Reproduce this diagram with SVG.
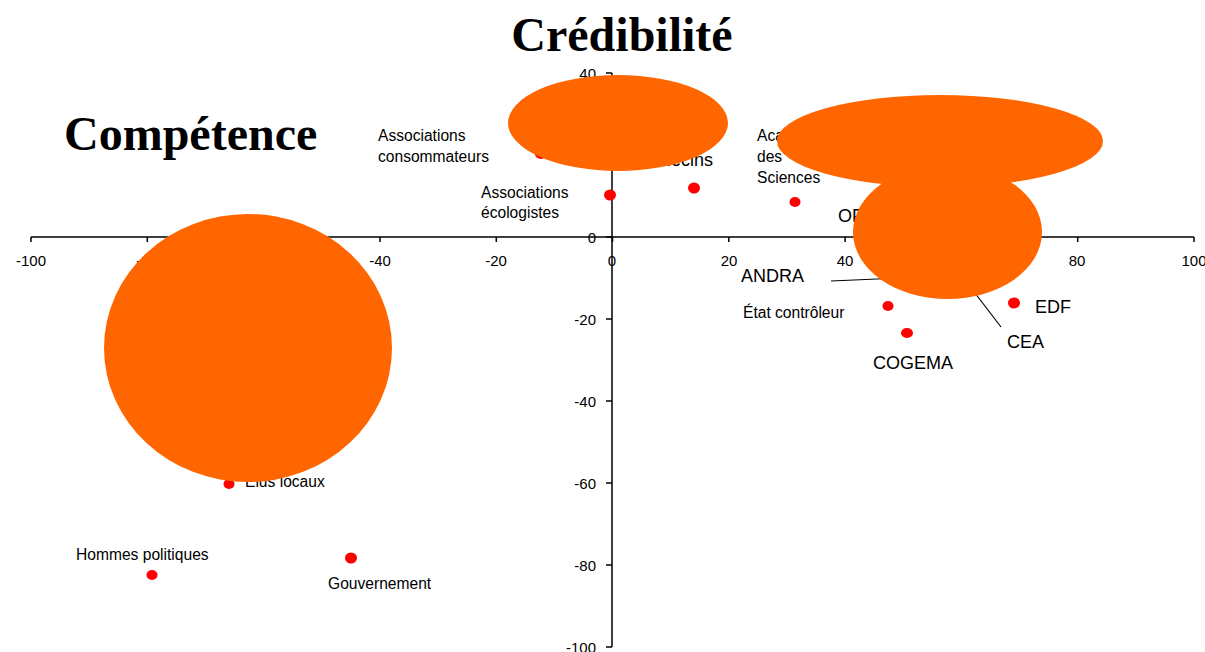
<svg xmlns="http://www.w3.org/2000/svg" width="1205" height="652" viewBox="0 0 1205 652">
<style>
.ax{stroke:#000;stroke-width:1.5;fill:none}
.tk{font-family:"Liberation Sans",Arial,sans-serif;font-size:15px;fill:#000}
.sm{font-family:"Liberation Sans",Arial,sans-serif;font-size:15.6px;fill:#000}
.lg{font-family:"Liberation Sans",Arial,sans-serif;font-size:18px;fill:#000}
.ttl{font-family:"Liberation Serif","Times New Roman",serif;font-size:48px;font-weight:bold;fill:#000}
.dot{fill:#FF0000}
.blob{fill:#FF6600}
.ld{stroke:#000;stroke-width:1.2;fill:none}
</style>
<rect width="1205" height="652" fill="#fff"/>
<g id="axes">
<path class="ax" d="M31 237H1194M612 73V647"/>
<path class="ax" d="M31 237v5M147.3 237v5M263.6 237v5M380 237v5M496.3 237v5M612.5 237v5M728.8 237v5M845.1 237v5M961.4 237v5M1077.7 237v5M1194 237v5"/>
<path class="ax" d="M606 73h6M606 155h6M606 237h6M606 319h6M606 401h6M606 483h6M606 565h6M606 647h6"/>
<g class="tk" text-anchor="middle">
<text x="31" y="266">-100</text><text x="147" y="266">-80</text><text x="264" y="266">-60</text><text x="380" y="266">-40</text><text x="496" y="266">-20</text><text x="612" y="266">0</text><text x="729" y="266">20</text><text x="845" y="266">40</text><text x="961" y="266">60</text><text x="1077" y="266">80</text><text x="1194" y="266">100</text>
</g>
<g class="tk" text-anchor="end">
<text x="596" y="79">40</text><text x="596" y="161">20</text><text x="596" y="243">0</text><text x="596" y="325">-20</text><text x="596" y="407">-40</text><text x="596" y="489">-60</text><text x="596" y="571">-80</text><text x="596" y="653">-100</text>
</g>
</g>
<g id="titles">
<text class="ttl" x="622" y="51" text-anchor="middle">Crédibilité</text>
<text class="ttl" x="64" y="150">Compétence</text>
</g>
<g id="connectors">
<path class="ld" d="M831 281L900 278"/>
<path class="ld" d="M1001 327L965 280"/>
</g>
<g id="assoc-consommateurs"><ellipse class="dot" cx="541" cy="154" rx="6" ry="5"/><text class="sm" x="378" y="141">Associations</text><text class="sm" x="378" y="162">consommateurs</text></g>
<g id="assoc-ecologistes"><ellipse class="dot" cx="610" cy="195" rx="6" ry="5.5"/><text class="sm" x="481" y="198">Associations</text><text class="sm" x="481" y="218">écologistes</text></g>
<g id="medecins"><ellipse class="dot" cx="694" cy="188" rx="6" ry="5.5"/><text class="lg" x="636" y="166">Médecins</text></g>
<g id="academie"><ellipse class="dot" cx="795" cy="202" rx="5.5" ry="5"/><text class="sm" x="757" y="141">Académie</text><text class="sm" x="757" y="162">des</text><text class="sm" x="757" y="183">Sciences</text></g>
<g id="opri"><text class="lg" x="838" y="222">OPRI</text></g>
<g id="andra"><text class="lg" x="741" y="282">ANDRA</text></g>
<g id="etat"><ellipse class="dot" cx="888" cy="306" rx="5.5" ry="5"/><text class="sm" x="743" y="318">État contrôleur</text></g>
<g id="cogema"><ellipse class="dot" cx="907" cy="333" rx="6" ry="5"/><text class="lg" x="873" y="369">COGEMA</text></g>
<g id="edf"><ellipse class="dot" cx="1014" cy="303" rx="6" ry="5.5"/><text class="lg" x="1035" y="313">EDF</text></g>
<g id="cea"><text class="lg" x="1007" y="348">CEA</text></g>
<g id="elus"><ellipse class="dot" cx="229" cy="484" rx="5.5" ry="5"/><text class="sm" x="245" y="487">Élus locaux</text></g>
<g id="hommes"><ellipse class="dot" cx="152" cy="575" rx="5.5" ry="5"/><text class="sm" x="76" y="560">Hommes politiques</text></g>
<g id="gouvernement"><ellipse class="dot" cx="351" cy="558" rx="6" ry="5.5"/><text class="sm" x="328" y="589">Gouvernement</text></g>
<g id="masks">
<ellipse class="blob" cx="618" cy="123" rx="110" ry="48"/>
<ellipse class="blob" cx="947.5" cy="232" rx="94.5" ry="67"/>
<ellipse class="blob" cx="940" cy="141" rx="163" ry="46"/>
<ellipse class="blob" cx="248" cy="348" rx="144" ry="134"/>
</g>
</svg>
